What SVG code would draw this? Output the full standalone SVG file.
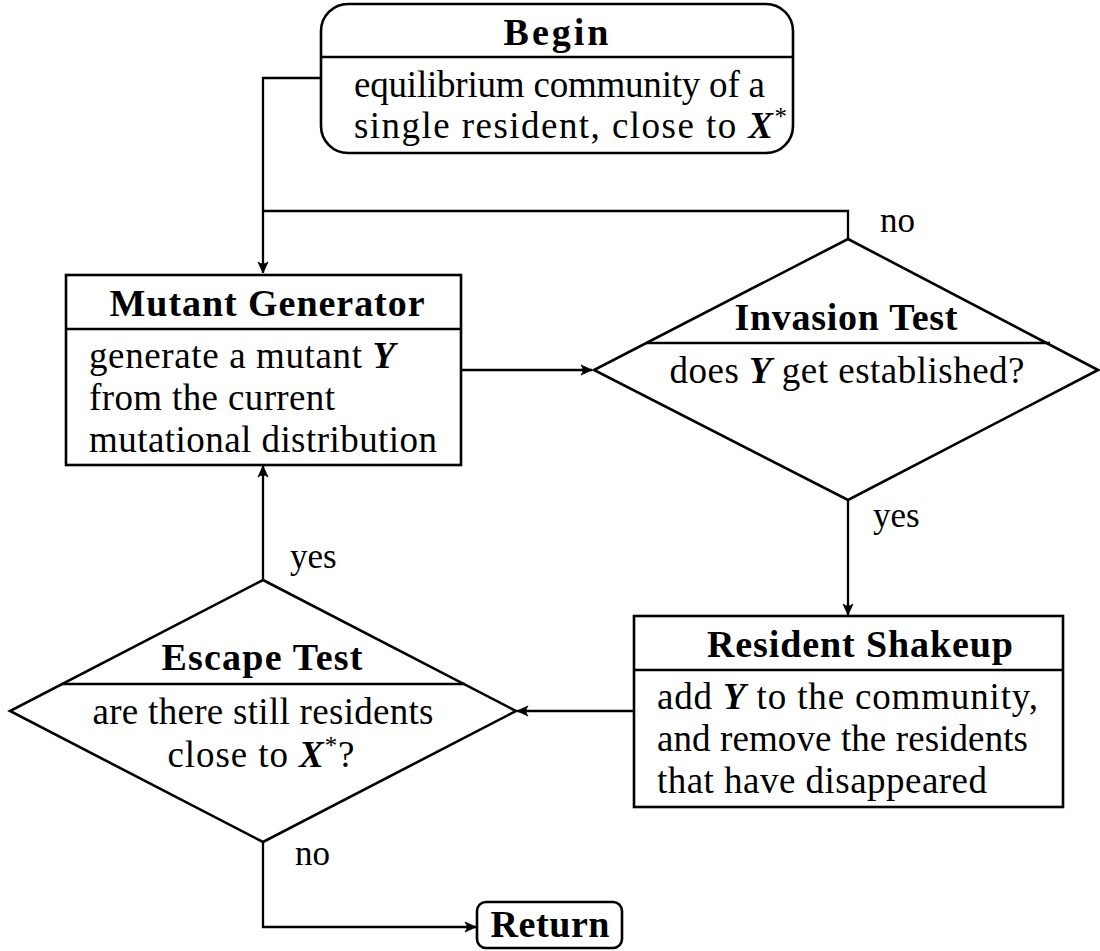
<svg xmlns="http://www.w3.org/2000/svg" width="1100" height="951" viewBox="0 0 1100 951">
  <style>
    .box { fill: #fff; stroke: #000; stroke-width: 2.6; }
    .sep { stroke: #000; stroke-width: 2.5; fill: none; }
    .conn { stroke: #000; stroke-width: 2.3; fill: none; }
    text { font-family: "Liberation Serif", "Times New Roman", serif; fill: #000; }
    .t { font-size: 37px; }
    .h { font-size: 38px; font-weight: bold; text-anchor: middle; }
    .lbl { font-size: 35px; }
    .v { font-weight: bold; font-style: italic; }
    .sup { font-size: 25px; }
  </style>
  <defs>
    <marker id="arr" markerUnits="userSpaceOnUse" markerWidth="14" markerHeight="12" viewBox="-12 -6 14 12" refX="0" refY="0" orient="auto">
      <path d="M0,0 L-11,-5 Q-7,0 -11,5 Z" fill="#000" stroke="#000" stroke-width="0.8" stroke-linejoin="miter"/>
    </marker>
  </defs>

  <g id="connectors">
    <polyline class="conn" points="321,78 263,78 263,273" marker-end="url(#arr)"/>
    <polyline class="conn" points="848,239 848,211 263,211"/>
    <line class="conn" x1="461" y1="370" x2="592" y2="370" marker-end="url(#arr)"/>
    <line class="conn" x1="848" y1="500" x2="848" y2="615" marker-end="url(#arr)"/>
    <line class="conn" x1="634" y1="711" x2="517" y2="711" marker-end="url(#arr)"/>
    <line class="conn" x1="263" y1="580" x2="263" y2="466" marker-end="url(#arr)"/>
    <polyline class="conn" points="263,842 263,927 476,927" marker-end="url(#arr)"/>
    <text class="lbl" x="880" y="232">no</text>
    <text class="lbl" x="873" y="527">yes</text>
    <text class="lbl" x="290" y="568">yes</text>
    <text class="lbl" x="295" y="865">no</text>
  </g>

  <g id="begin">
    <rect class="box" x="321" y="4" width="472" height="149" rx="27" ry="27"/>
    <line class="sep" x1="321" y1="57" x2="793" y2="57"/>
    <text class="h" x="556" y="45" textLength="105" lengthAdjust="spacing">Begin</text>
    <text class="t" x="354" y="97" textLength="411" lengthAdjust="spacing">equilibrium community of a</text>
    <text class="t" x="354" y="138" textLength="433" lengthAdjust="spacing">single resident, close to <tspan class="v">X</tspan><tspan class="sup" dy="-13">*</tspan></text>
  </g>

  <g id="mutant-generator">
    <rect class="box" x="66" y="275" width="395" height="190"/>
    <line class="sep" x1="66" y1="329" x2="461" y2="329"/>
    <text class="h" x="267" y="316" textLength="315" lengthAdjust="spacing">Mutant Generator</text>
    <text class="t" x="89" y="368" textLength="306" lengthAdjust="spacing">generate a mutant <tspan class="v">Y</tspan></text>
    <text class="t" x="89" y="410" textLength="246" lengthAdjust="spacing">from the current</text>
    <text class="t" x="89" y="452" textLength="348" lengthAdjust="spacing">mutational distribution</text>
  </g>

  <g id="invasion-test">
    <polygon class="box" points="848,239 1098,370 848,500 594,370"/>
    <line class="sep" x1="646" y1="343" x2="1050" y2="343"/>
    <text class="h" x="846" y="330" textLength="223" lengthAdjust="spacing">Invasion Test</text>
    <text class="t" x="847" y="383" text-anchor="middle" textLength="355" lengthAdjust="spacing">does <tspan class="v">Y</tspan> get established?</text>
  </g>

  <g id="resident-shakeup">
    <rect class="box" x="634" y="616" width="429" height="191"/>
    <line class="sep" x1="634" y1="670" x2="1063" y2="670"/>
    <text class="h" x="860" y="657" textLength="306" lengthAdjust="spacing">Resident Shakeup</text>
    <text class="t" x="657" y="709" textLength="381" lengthAdjust="spacing">add <tspan class="v">Y</tspan> to the community,</text>
    <text class="t" x="657" y="751" textLength="371" lengthAdjust="spacing">and remove the residents</text>
    <text class="t" x="657" y="793" textLength="330" lengthAdjust="spacing">that have disappeared</text>
  </g>

  <g id="escape-test">
    <polygon class="box" points="263,580 516,711 263,842 10,711"/>
    <line class="sep" x1="62" y1="684" x2="465" y2="684"/>
    <text class="h" x="262" y="670" textLength="201" lengthAdjust="spacing">Escape Test</text>
    <text class="t" x="263" y="724" text-anchor="middle" textLength="341" lengthAdjust="spacing">are there still residents</text>
    <text class="t" x="261" y="767" text-anchor="middle" textLength="187" lengthAdjust="spacing">close to <tspan class="v">X</tspan><tspan class="sup" dy="-13">*</tspan><tspan dy="13">?</tspan></text>
  </g>

  <g id="return">
    <rect class="box" x="477" y="902" width="145" height="46" rx="9" ry="9"/>
    <text class="h" x="550" y="937" textLength="119" lengthAdjust="spacing">Return</text>
  </g>
</svg>
